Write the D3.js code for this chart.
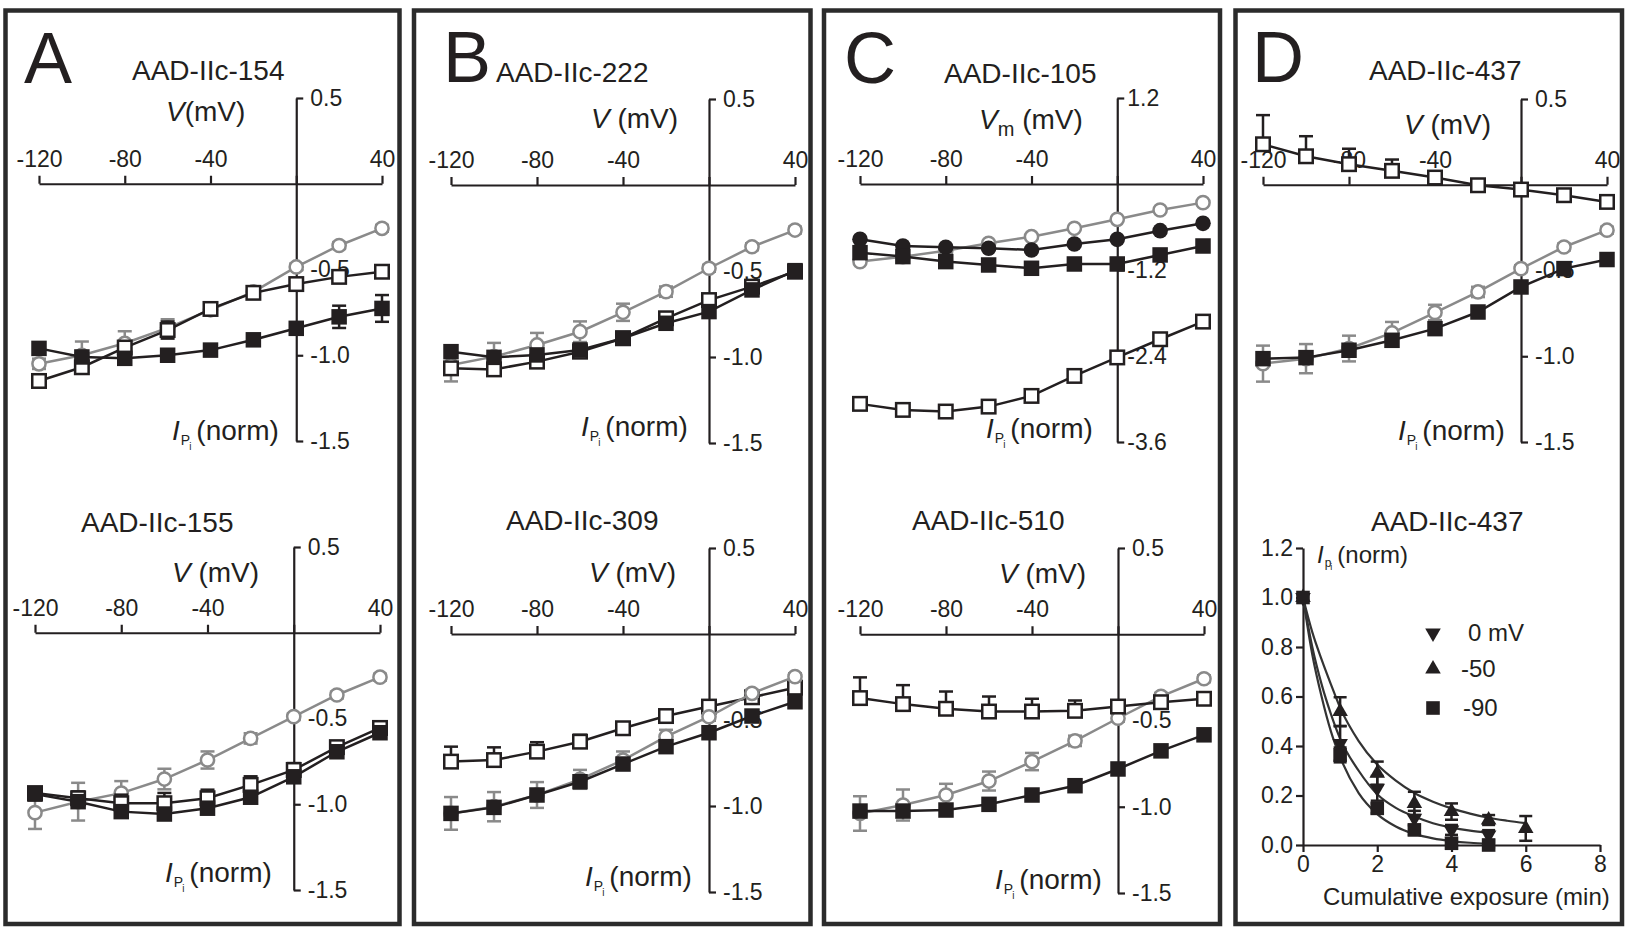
<!DOCTYPE html>
<html><head><meta charset="utf-8">
<script src="https://cdn.jsdelivr.net/npm/d3@7"></script>
<style>
body{margin:0;background:#fff;}
svg{display:block;}
</style></head><body>
<svg id="fig" width="1627" height="930"></svg>
<script>
// ---------------- DATA ----------------
const voltages = [-120, -100, -80, -60, -40, -20, 0, 20, 40];
const vTicks = [-120, -80, -40, 0, 40];
const vTickLabels = ["-120", "-80", "-40", "", "40"];
const iTicks = [0.5, -0.5, -1.0, -1.5];
const iTickLabels = ["0.5", "-0.5", "-1.0", "-1.5"];
const iTicksC = [1.2, -1.2, -2.4, -3.6];
const iTickLabelsC = ["1.2", "-1.2", "-2.4", "-3.6"];

// A: AAD-IIc-154
const a154Control = [-1.05, -1.00, -0.93, -0.84, -0.735, -0.63, -0.485, -0.36, -0.26];
const a154ControlErr = [0.03, 0.08, 0.07, 0.05, 0.03, 0.03, 0.02, 0.02, 0.02];
const a154Open = [-1.15, -1.07, -0.955, -0.853, -0.73, -0.636, -0.585, -0.543, -0.513];
const a154OpenErr = [0.02, 0.02, 0.02, 0.05, 0.02, 0.02, 0.02, 0.02, 0.02];
const a154Filled = [-0.96, -1.01, -1.018, -1.0, -0.97, -0.91, -0.843, -0.776, -0.727];
const a154FilledErr = [0.02, 0.02, 0.02, 0.02, 0.02, 0.02, 0.03, 0.065, 0.078];

// A: AAD-IIc-155
const a155Control = [-1.049, -0.985, -0.935, -0.853, -0.742, -0.616, -0.489, -0.363, -0.259];
const a155ControlErr = [0.095, 0.11, 0.07, 0.06, 0.05, 0.03, 0.02, 0.02, 0.02];
const a155Open = [-0.935, -0.965, -0.994, -0.994, -0.965, -0.887, -0.80, -0.667, -0.555];
const a155OpenErr = [0.02, 0.04, 0.05, 0.06, 0.05, 0.05, 0.04, 0.03, 0.03];
const a155Filled = [-0.941, -0.985, -1.043, -1.057, -1.023, -0.959, -0.84, -0.694, -0.583];
const a155FilledErr = [0.02, 0.02, 0.02, 0.02, 0.02, 0.02, 0.02, 0.02, 0.02];

// B: AAD-IIc-222
const b222Control = [-1.047, -0.998, -0.93, -0.853, -0.74, -0.62, -0.484, -0.359, -0.262];
const b222ControlErr = [0.095, 0.08, 0.07, 0.06, 0.05, 0.03, 0.02, 0.02, 0.02];
const b222Open = [-1.066, -1.072, -1.027, -0.969, -0.891, -0.775, -0.669, -0.591, -0.504];
const b222OpenErr = [0.02, 0.02, 0.02, 0.02, 0.02, 0.03, 0.02, 0.02, 0.02];
const b222Filled = [-0.969, -1.002, -0.988, -0.959, -0.891, -0.804, -0.736, -0.61, -0.498];
const b222FilledErr = [0.02, 0.02, 0.02, 0.02, 0.02, 0.02, 0.02, 0.02, 0.02];

// B: AAD-IIc-309
const b309Control = [-1.043, -1.004, -0.936, -0.845, -0.733, -0.597, -0.481, -0.345, -0.248];
const b309ControlErr = [0.095, 0.085, 0.075, 0.055, 0.05, 0.04, 0.02, 0.02, 0.02];
const b309Open = [-0.742, -0.733, -0.684, -0.626, -0.548, -0.477, -0.422, -0.368, -0.312];
const b309OpenErr = [0.087, 0.074, 0.055, 0.04, 0.02, 0.02, 0.02, 0.02, 0.02];
const b309Filled = [-1.043, -1.008, -0.936, -0.859, -0.756, -0.655, -0.574, -0.477, -0.394];
const b309FilledErr = [0.02, 0.02, 0.02, 0.02, 0.02, 0.02, 0.02, 0.02, 0.02];

// C: AAD-IIc-105
const c105Control = [-1.083, -1.014, -0.93, -0.828, -0.735, -0.618, -0.493, -0.363, -0.26];
const c105FilledCircle = [-0.772, -0.865, -0.883, -0.897, -0.92, -0.837, -0.772, -0.651, -0.549];
const c105FilledSquare = [-0.958, -1.013, -1.083, -1.13, -1.176, -1.116, -1.116, -0.99, -0.865];
const c105Open = [-3.068, -3.152, -3.175, -3.106, -2.957, -2.678, -2.42, -2.166, -1.92];

// C: AAD-IIc-510
const c510Control = [-1.039, -0.99, -0.932, -0.851, -0.738, -0.618, -0.487, -0.36, -0.258];
const c510ControlErr = [0.1, 0.09, 0.065, 0.055, 0.05, 0.03, 0.02, 0.02, 0.02];
const c510Open = [-0.37, -0.405, -0.432, -0.448, -0.448, -0.444, -0.419, -0.394, -0.374];
const c510OpenErr = [0.12, 0.11, 0.1, 0.087, 0.074, 0.06, 0.03, 0.02, 0.02];
const c510Filled = [-1.025, -1.025, -1.019, -0.986, -0.932, -0.878, -0.781, -0.676, -0.583];
const c510FilledErr = [0.02, 0.02, 0.02, 0.02, 0.02, 0.02, 0.02, 0.02, 0.02];

// D: AAD-IIc-437 (I-V)
const d437Control = [-1.043, -1.014, -0.955, -0.864, -0.745, -0.625, -0.489, -0.363, -0.265];
const d437ControlErr = [0.105, 0.085, 0.075, 0.064, 0.045, 0.03, 0.02, 0.02, 0.02];
const d437Open = [0.236, 0.166, 0.12, 0.081, 0.042, -0.003, -0.028, -0.061, -0.1];
const d437OpenErr = [0.17, 0.117, 0.09, 0.066, 0.03, 0.01, 0.01, 0.01, 0.01];
const d437Filled = [-1.014, -1.008, -0.965, -0.907, -0.839, -0.742, -0.596, -0.489, -0.436];
const d437FilledErr = [0.03, 0.02, 0.02, 0.02, 0.02, 0.02, 0.02, 0.02, 0.02];

// D: AAD-IIc-437 (decay vs cumulative exposure)
const exposureTimes = [0, 1, 2, 3, 4, 5, 6];
const decay0mV = [1.0, 0.41, 0.229, 0.108, 0.061, 0.04];
const decay0mVErr = [0, 0.07, 0.05, 0.03, 0.02, 0.02];
const decayM50 = [1.0, 0.539, 0.29, 0.168, 0.135, 0.101, 0.067];
const decayM50Err = [0, 0.058, 0.047, 0.047, 0.033, 0.02, 0.05];
const decayM90 = [1.0, 0.364, 0.148, 0.061, 0.007, 0.0];
const decayM90Err = [0, 0.03, 0.02, 0.02, 0.01, 0.01];
const fitTimes = [0, 0.25, 0.5, 0.75, 1, 1.5, 2, 2.5, 3, 3.5, 4, 4.5, 5, 5.5, 6];
const fitM50 = [1.0, 0.86, 0.75, 0.65, 0.555, 0.42, 0.325, 0.26, 0.21, 0.175, 0.148, 0.127, 0.11, 0.098, 0.088];
const fit0mV = [1.0, 0.80, 0.65, 0.53, 0.43, 0.30, 0.205, 0.15, 0.115, 0.088, 0.07, 0.058, 0.05];
const fitM90 = [1.0, 0.77, 0.60, 0.46, 0.355, 0.21, 0.125, 0.075, 0.045, 0.027, 0.016, 0.009, 0.005];
const decayXTicks = [0, 2, 4, 6, 8];
const decayYTicks = [0, 0.2, 0.4, 0.6, 0.8, 1.0, 1.2];
const legendLabels = ["0 mV", "-50", "-90"];

// ---------------- DRAWING ----------------
const FONT = '"Liberation Sans", Arial, Helvetica, sans-serif';
const INK = "#231f20";
const GREY = "#8a8a8a";
const LW = 2.5;
const svg = d3.select("#fig").attr("font-family", FONT);

const STYLES = {
  greyCircle:   {color: GREY, shape: "circle", fill: "#fff", r: 6.6},
  openSquare:   {color: INK,  shape: "square", fill: "#fff", s: 13.5},
  filledSquare: {color: INK,  shape: "square", fill: INK,   s: 15.5},
  filledCircle: {color: INK,  shape: "circle", fill: INK,   r: 7.8}
};

// panel frames
const frames = [[5.5, 10.5, 399.5, 924], [414, 10.5, 810.5, 924], [824, 10.5, 1220, 924], [1235.5, 10.5, 1622, 924]];
svg.selectAll("rect.frame").data(frames).join("rect").attr("class", "frame")
  .attr("x", d => d[0]).attr("y", d => d[1]).attr("width", d => d[2] - d[0]).attr("height", d => d[3] - d[1])
  .attr("fill", "none").attr("stroke", "#2b2b2b").attr("stroke-width", 4.5);

// panel letters
const letters = [["A", 24, 83], ["B", 443, 82], ["C", 844, 83], ["D", 1252, 82]];
svg.selectAll("text.letter").data(letters).join("text").attr("class", "letter")
  .attr("x", d => d[1]).attr("y", d => d[2]).attr("font-size", 72).attr("fill", INK).text(d => d[0]);

function styleAxis(a) {
  a.attr("font-family", FONT).attr("font-size", 23);
  a.selectAll("path,line").attr("stroke", INK).attr("stroke-width", 2.2);
  a.selectAll("text").attr("fill", INK);
}

function drawIV(cfg) {
  const g = svg.append("g");
  const x = d3.scaleLinear().domain([-120, 40]).range([cfg.xl, cfg.xr]);
  const y = d3.scaleLinear().domain(cfg.yDomain).range([cfg.yt, cfg.yb]);

  g.append("text").attr("x", cfg.title[1]).attr("y", cfg.title[2])
    .attr("font-size", 28).attr("fill", INK).text(cfg.title[0]);

  const xa = g.append("g").attr("transform", `translate(0,${y(0)})`)
    .call(d3.axisTop(x).tickValues(vTicks).tickFormat((d, i) => vTickLabels[i])
      .tickSize(8).tickSizeOuter(0).tickPadding(9));
  styleAxis(xa);
  const ya = g.append("g").attr("transform", `translate(${x(0)},0)`)
    .call(d3.axisRight(y).tickValues(cfg.yTicks).tickFormat((d, i) => cfg.yTickLabels[i])
      .tickSize(7).tickSizeOuter(0).tickPadding(cfg.yPad));
  styleAxis(ya);

  // V label
  const vl = g.append("text").attr("x", cfg.vLab[0]).attr("y", cfg.vLab[1]).attr("font-size", 28).attr("fill", INK);
  vl.append("tspan").attr("font-style", "italic").text("V");
  if (cfg.vSub) {
    vl.append("tspan").attr("font-size", 20).attr("dy", 7).text("m");
    vl.append("tspan").attr("dy", -7).text("\u00a0(mV)");
  } else {
    vl.append("tspan").text(cfg.vSpace ? "\u00a0(mV)" : "(mV)");
  }
  // I label
  const il = g.append("text").attr("x", cfg.iLab[0]).attr("y", cfg.iLab[1]).attr("font-size", 28).attr("fill", INK);
  il.append("tspan").attr("font-style", "italic").text("I");
  il.append("tspan").attr("font-size", 14).attr("dy", 4.5).attr("dx", 1).text("P");
  il.append("tspan").attr("font-size", 10).attr("dy", 5).attr("dx", -1).text("i");
  il.append("tspan").attr("dy", -9.5).attr("dx", 5).text("(norm)");

  cfg.series.forEach(s => {
    const st = STYLES[s.style];
    const pts = voltages.map((v, i) => ({v: v, c: s.values[i], e: s.err ? s.err[i] : 0}));
    const eb = pts.filter(p => p.e > 0);
    const eg = g.append("g").attr("stroke", st.color).attr("stroke-width", LW);
    eg.selectAll("line.stem").data(eb).join("line").attr("class", "stem")
      .attr("x1", p => x(p.v)).attr("x2", p => x(p.v))
      .attr("y1", p => y(p.c + p.e)).attr("y2", p => s.up ? y(p.c) : y(p.c - p.e));
    eg.selectAll("line.capT").data(eb).join("line").attr("class", "capT")
      .attr("x1", p => x(p.v) - 7).attr("x2", p => x(p.v) + 7)
      .attr("y1", p => y(p.c + p.e)).attr("y2", p => y(p.c + p.e));
    if (!s.up) {
      eg.selectAll("line.capB").data(eb).join("line").attr("class", "capB")
        .attr("x1", p => x(p.v) - 7).attr("x2", p => x(p.v) + 7)
        .attr("y1", p => y(p.c - p.e)).attr("y2", p => y(p.c - p.e));
    }
    g.append("path").datum(pts).attr("fill", "none").attr("stroke", st.color).attr("stroke-width", LW)
      .attr("d", d3.line().x(p => x(p.v)).y(p => y(p.c)));
    const mg = g.append("g");
    if (st.shape === "circle") {
      mg.selectAll("circle").data(pts).join("circle")
        .attr("cx", p => x(p.v)).attr("cy", p => y(p.c)).attr("r", st.r)
        .attr("fill", st.fill).attr("stroke", st.color).attr("stroke-width", st.fill === "#fff" ? LW : 0);
    } else {
      mg.selectAll("rect").data(pts).join("rect")
        .attr("x", p => x(p.v) - st.s / 2).attr("y", p => y(p.c) - st.s / 2)
        .attr("width", st.s).attr("height", st.s)
        .attr("fill", st.fill).attr("stroke", st.color).attr("stroke-width", st.fill === "#fff" ? LW : 0);
    }
  });
}

const std = {yDomain: [0.5, -1.5], yTicks: iTicks, yTickLabels: iTickLabels, yPad: 7, vSpace: true};

drawIV(Object.assign({}, std, {
  xl: 39, xr: 382, yt: 98, yb: 441, title: ["AAD-IIc-154", 132, 80],
  vLab: [166, 121], vSpace: false, iLab: [172, 440],
  series: [
    {values: a154Control, err: a154ControlErr, style: "greyCircle"},
    {values: a154Open, err: a154OpenErr, style: "openSquare"},
    {values: a154Filled, err: a154FilledErr, style: "filledSquare"}
  ]}));

drawIV(Object.assign({}, std, {
  xl: 35, xr: 380, yt: 547, yb: 890, title: ["AAD-IIc-155", 81, 532],
  vLab: [172, 582], iLab: [165, 882],
  series: [
    {values: a155Control, err: a155ControlErr, style: "greyCircle"},
    {values: a155Open, err: a155OpenErr, style: "openSquare", up: true},
    {values: a155Filled, err: a155FilledErr, style: "filledSquare"}
  ]}));

drawIV(Object.assign({}, std, {
  xl: 451, xr: 795, yt: 99, yb: 443, title: ["AAD-IIc-222", 496, 82],
  vLab: [591, 128], iLab: [581, 436],
  series: [
    {values: b222Control, err: b222ControlErr, style: "greyCircle"},
    {values: b222Open, err: b222OpenErr, style: "openSquare"},
    {values: b222Filled, err: b222FilledErr, style: "filledSquare"}
  ]}));

drawIV(Object.assign({}, std, {
  xl: 451, xr: 795, yt: 548, yb: 892, title: ["AAD-IIc-309", 506, 530],
  vLab: [589, 582], iLab: [585, 886],
  series: [
    {values: b309Open, err: b309OpenErr, style: "openSquare", up: true},
    {values: b309Control, err: b309ControlErr, style: "greyCircle"},
    {values: b309Filled, err: b309FilledErr, style: "filledSquare"}
  ]}));

drawIV({
  xl: 860, xr: 1203, yt: 98, yb: 442, yDomain: [1.2, -3.6], yTicks: iTicksC, yTickLabels: iTickLabelsC, yPad: 3,
  title: ["AAD-IIc-105", 944, 83], vLab: [979, 129], vSub: true, iLab: [986, 438],
  series: [
    {values: c105Control, style: "greyCircle"},
    {values: c105FilledCircle, style: "filledCircle"},
    {values: c105FilledSquare, style: "filledSquare"},
    {values: c105Open, style: "openSquare"}
  ]});

drawIV(Object.assign({}, std, {
  xl: 860, xr: 1204, yt: 548, yb: 893, title: ["AAD-IIc-510", 912, 530],
  vLab: [999, 583], iLab: [995, 889],
  series: [
    {values: c510Control, err: c510ControlErr, style: "greyCircle"},
    {values: c510Open, err: c510OpenErr, style: "openSquare", up: true},
    {values: c510Filled, err: c510FilledErr, style: "filledSquare"}
  ]}));

drawIV(Object.assign({}, std, {
  xl: 1263, xr: 1607, yt: 99, yb: 442, title: ["AAD-IIc-437", 1369, 80],
  vLab: [1404, 134], iLab: [1398, 440],
  series: [
    {values: d437Open, err: d437OpenErr, style: "openSquare", up: true},
    {values: d437Control, err: d437ControlErr, style: "greyCircle"},
    {values: d437Filled, err: d437FilledErr, style: "filledSquare"}
  ]}));

// ---- D bottom: decay vs cumulative exposure ----
(function () {
  const g = svg.append("g");
  const x = d3.scaleLinear().domain([0, 8]).range([1303, 1600]);
  const y = d3.scaleLinear().domain([0, 1.2]).range([845, 548]);
  g.append("text").attr("x", 1371).attr("y", 531).attr("font-size", 28).attr("fill", INK).text("AAD-IIc-437");

  const ya = g.append("g").attr("transform", "translate(1303,0)")
    .call(d3.axisLeft(y).tickValues(decayYTicks).tickFormat(d3.format(".1f")).tickSize(7).tickSizeOuter(0).tickPadding(3));
  styleAxis(ya);
  const xa = g.append("g").attr("transform", "translate(0,845)")
    .call(d3.axisBottom(x).tickValues(decayXTicks).tickFormat(d3.format("d")).tickSize(7).tickSizeOuter(0).tickPadding(4));
  styleAxis(xa);

  g.append("text").attr("x", 1323).attr("y", 905).attr("font-size", 24).attr("fill", INK).text("Cumulative exposure (min)");
  const il = g.append("text").attr("x", 1317).attr("y", 563).attr("font-size", 24).attr("fill", INK);
  il.append("tspan").attr("font-style", "italic").text("I");
  il.append("tspan").attr("font-size", 12).attr("dy", 4).attr("dx", 1).text("p");
  il.append("tspan").attr("font-size", 9).attr("dy", 3).attr("dx", -1).text("i");
  il.append("tspan").attr("dy", -7).attr("dx", 5).text("(norm)");

  const fits = [fitM50, fit0mV, fitM90];
  fits.forEach(f => {
    const pts = f.map((v, i) => [fitTimes[i], v]);
    g.append("path").datum(pts).attr("fill", "none").attr("stroke", "#333").attr("stroke-width", 2.2)
      .attr("d", d3.line().x(d => x(d[0])).y(d => y(d[1])).curve(d3.curveMonotoneX));
  });

  const sets = [
    {values: decayM50, err: decayM50Err, sym: d3.symbolTriangle, size: 105, rot: 0},
    {values: decay0mV, err: decay0mVErr, sym: d3.symbolTriangle, size: 105, rot: 180},
    {values: decayM90, err: decayM90Err, sym: d3.symbolSquare, size: 185, rot: 0}
  ];
  sets.forEach(s => {
    const pts = s.values.map((v, i) => ({t: exposureTimes[i], v: v, e: s.err[i]}));
    const eb = pts.filter(p => p.e > 0);
    const eg = g.append("g").attr("stroke", INK).attr("stroke-width", LW);
    eg.selectAll("line.stem").data(eb).join("line").attr("class", "stem")
      .attr("x1", p => x(p.t)).attr("x2", p => x(p.t)).attr("y1", p => y(p.v + p.e)).attr("y2", p => y(p.v - p.e));
    eg.selectAll("line.capT").data(eb).join("line").attr("class", "capT")
      .attr("x1", p => x(p.t) - 6.5).attr("x2", p => x(p.t) + 6.5).attr("y1", p => y(p.v + p.e)).attr("y2", p => y(p.v + p.e));
    eg.selectAll("line.capB").data(eb).join("line").attr("class", "capB")
      .attr("x1", p => x(p.t) - 6.5).attr("x2", p => x(p.t) + 6.5).attr("y1", p => y(p.v - p.e)).attr("y2", p => y(p.v - p.e));
    g.append("g").selectAll("path").data(pts).join("path")
      .attr("d", d3.symbol(s.sym, s.size)())
      .attr("transform", p => `translate(${x(p.t)},${y(p.v)}) rotate(${s.rot})`)
      .attr("fill", INK);
  });

  // legend
  const legendSyms = [
    {sym: d3.symbolTriangle, size: 105, rot: 180, x: 1433, y: 633, tx: 1468, ty: 641},
    {sym: d3.symbolTriangle, size: 105, rot: 0, x: 1433, y: 669, tx: 1461, ty: 677},
    {sym: d3.symbolSquare, size: 185, rot: 0, x: 1433, y: 708, tx: 1463, ty: 716}
  ];
  legendSyms.forEach((l, i) => {
    g.append("path").attr("d", d3.symbol(l.sym, l.size)())
      .attr("transform", `translate(${l.x},${l.y}) rotate(${l.rot})`).attr("fill", INK);
    g.append("text").attr("x", l.tx).attr("y", l.ty).attr("font-size", 24).attr("fill", INK).text(legendLabels[i]);
  });
})();
</script>
</body></html>
